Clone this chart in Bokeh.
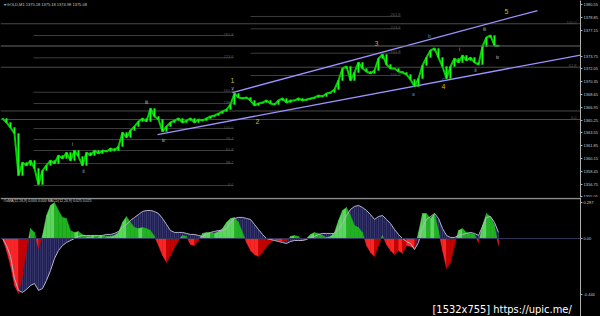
import numpy as np
from bokeh.plotting import figure
from bokeh.layouts import column
from bokeh.models import (Range1d, FixedTicker, Label, Span, ColumnDataSource,
                          NumeralTickFormatter)
from bokeh.core.properties import value
from bokeh.embed import file_html
from bokeh.resources import INLINE

# ---------------- data ----------------
title_text = "\u25be GOLD,M1  1375.18 1375.18 1374.98 1375.08"
ind_text = "OsMA(12,26,9) 0.000 0.000  MACD(12,26,9) 0.025 0.025"
watermark = "[1532x755] https://upic.me/"
current_price = 1375.08

close = [1365.45, 1364.92, 1364.25, 1363.46, 1357.88, 1359.61, 1359.21, 1359.87, 1358.81, 1356.68,
         1358.54, 1359.21, 1359.87, 1359.47, 1360.54, 1360.14, 1360.93, 1359.87, 1361.20, 1360.40,
         1359.21, 1360.93, 1360.54, 1361.20, 1360.80, 1361.20, 1361.07, 1361.47, 1361.20, 1361.73,
         1363.59, 1362.93, 1363.86, 1364.39, 1365.05, 1365.45, 1365.05, 1366.78, 1365.72, 1365.32,
         1363.72, 1364.39, 1364.92, 1365.18, 1365.45, 1364.92, 1365.18, 1365.45, 1364.92, 1365.32,
         1365.18, 1365.45, 1365.72, 1365.85, 1366.11, 1366.38, 1366.64, 1367.31, 1368.77, 1368.24,
         1368.11, 1368.24, 1367.84, 1367.18, 1367.44, 1367.57, 1367.84, 1367.44, 1367.31, 1367.84,
         1368.11, 1367.57, 1367.84, 1367.84, 1368.11, 1367.84, 1367.97, 1368.11, 1368.24, 1368.50,
         1368.37, 1368.77, 1368.90, 1369.30, 1370.50, 1372.09, 1372.36, 1370.50, 1371.56, 1372.89,
         1372.09, 1371.69, 1371.43, 1371.82, 1373.42, 1373.95, 1372.62, 1372.09, 1372.09, 1371.69,
         1371.56, 1371.29, 1370.63, 1369.70, 1370.76, 1372.49, 1373.55, 1374.48, 1374.75, 1373.55,
         1372.36, 1370.76, 1372.36, 1373.42, 1372.89, 1373.82, 1373.15, 1373.55, 1372.89, 1372.62,
         1375.01, 1376.21, 1376.47, 1375.14, 1375.08]

osma = [0.0, -0.095, -0.214, -0.373, -0.436, -0.293, -0.095, 0.079, 0.048, -0.079,
        0.024, 0.182, 0.262, 0.285, 0.222, 0.167, 0.159, 0.063, 0.048, 0.056,
        0.032, 0.016, 0.016, 0.024, 0.016, 0.024, 0.016, 0.016, 0.024, 0.048,
        0.127, 0.174, 0.127, 0.087, 0.079, 0.087, 0.079, 0.063, 0.016, -0.056,
        -0.135, -0.190, -0.135, -0.071, -0.016, 0.024, 0.016, -0.048, -0.056, -0.016,
        0.040, 0.048, 0.048, 0.040, 0.056, 0.079, 0.127, 0.159, 0.167, 0.127,
        0.048, -0.032, -0.095, -0.127, -0.143, -0.111, -0.063, -0.032, -0.008, -0.016,
        -0.024, -0.024, 0.016, 0.024, 0.016, -0.016, 0.0, 0.032, 0.048, 0.040,
        0.024, 0.008, 0.016, 0.048, 0.143, 0.222, 0.246, 0.182, 0.103, 0.087,
        0.048, -0.056, -0.111, -0.143, -0.056, 0.024, -0.048, -0.095, -0.127, -0.095,
        -0.119, -0.056, -0.063, -0.079, 0.048, 0.198, 0.198, 0.159, 0.198, 0.063,
        -0.095, -0.238, -0.190, -0.056, 0.063, 0.079, 0.048, 0.040, 0.032, -0.032,
        0.103, 0.198, 0.174, 0.103, -0.056]

macd = [0.0, -0.056, -0.143, -0.317, -0.412, -0.428, -0.404, -0.373, -0.357, -0.412,
        -0.397, -0.333, -0.254, -0.159, -0.095, -0.056, -0.032, -0.016, 0.0, 0.016,
        0.024, 0.024, 0.024, 0.024, 0.024, 0.024, 0.032, 0.032, 0.040, 0.056,
        0.087, 0.111, 0.143, 0.167, 0.190, 0.214, 0.222, 0.222, 0.214, 0.198,
        0.159, 0.111, 0.063, 0.048, 0.048, 0.048, 0.040, 0.032, 0.032, 0.024,
        0.016, 0.032, 0.048, 0.056, 0.063, 0.063, 0.079, 0.127, 0.159, 0.167,
        0.167, 0.159, 0.151, 0.111, 0.071, 0.032, 0.0, -0.008, -0.016, -0.024,
        -0.032, -0.040, -0.024, -0.016, -0.016, -0.016, -0.008, 0.008, 0.016, 0.032,
        0.040, 0.040, 0.040, 0.040, 0.079, 0.119, 0.182, 0.230, 0.254, 0.262,
        0.246, 0.222, 0.190, 0.151, 0.174, 0.182, 0.151, 0.119, 0.071, 0.032,
        0.0, -0.024, -0.040, -0.087, -0.032, 0.087, 0.151, 0.174, 0.198, 0.159,
        0.079, 0.024, 0.008, 0.008, 0.024, 0.032, 0.040, 0.048, 0.040, 0.024,
        0.095, 0.167, 0.174, 0.127, 0.048]

price_ticks = [1355.05, 1356.75, 1358.45, 1360.15, 1361.85, 1363.55, 1365.25, 1366.95,
               1368.65, 1370.35, 1372.05, 1373.75, 1377.15, 1378.85, 1380.55]
ind_ticks = [-0.444, 0.0, 0.287]

# fibonacci objects (levels, anchors in bar index)
fib_full_levels = [1378.03, 1372.26, 1366.45, 1365.32]
fib_full_names = ["100.0", "61.8", "", "0.0"]
fib_b_levels = [1376.47, 1373.51, 1368.94, 1367.44, 1364.12, 1362.66, 1361.20, 1359.47, 1356.55]
fib_b_names = ["261.8", "223.6", "161.8", "138.2", "100.0", "76.4", "61.8", "38.2", "0.0"]
fib_b_from, fib_b_to = 7.75, 57.75
fib_c_levels = [1379.00, 1377.36, 1374.12, 1371.16]
fib_c_names = ["261.8", "223.6", "161.8", "100.0"]
fib_c_from, fib_c_to = 62.0, 99.5

# channel lines (bar index, price)
chan_up_x = [57.5, 133.75]
chan_up_y = [1368.90, 1379.79]
chan_lo_x = [38.75, 144.5]
chan_lo_y = [1363.32, 1373.88]

# Elliott wave labels
major_lbl = ["1", "2", "3", "4", "5"]
major_x = [57.5, 63.75, 93.5, 110.25, 126.0]
major_y = [1370.50, 1365.05, 1375.41, 1369.70, 1379.66]
minor_lbl = ["i", "ii", "iii", "iv", "v", "i", "ii", "iii", "iv"]
minor_x = [17.5, 20.25, 36.0, 40.25, 57.5, 114.25, 118.25, 120.5, 123.75]
minor_y = [1362.00, 1358.41, 1367.57, 1362.53, 1369.43, 1374.61, 1371.82, 1377.27, 1373.55]
abc_lbl = ["a", "b", "c"]
abc_x = [102.75, 106.75, 110.25]
abc_y = [1368.77, 1376.34, 1370.63]

# ---------------- figures ----------------
n = len(close)
idx = np.arange(n)
xr = Range1d(-0.5, 144.5)
FONT = value("Liberation Sans")


def style_axis(a, ticks):
    a.ticker = FixedTicker(ticks=ticks)
    a.major_label_text_font_size = "4px"
    a.major_label_text_font = "Liberation Sans"
    a.major_label_text_color = "#c8c8c8"
    a.axis_line_color = "#b0b0b0"
    a.major_tick_line_color = "#b0b0b0"
    a.major_tick_out = 2
    a.major_tick_in = 0
    a.minor_tick_line_color = None
    a.major_label_standoff = 1


p = figure(frame_width=580, frame_height=197, x_range=xr,
           y_range=Range1d(1354.96, 1381.12), output_backend="svg",
           toolbar_location=None, x_axis_location=None, y_axis_location="right",
           background_fill_color="black", border_fill_color="black",
           min_border_left=0, min_border_right=20, min_border_top=0, min_border_bottom=0)
p.grid.visible = False
p.outline_line_color = None
style_axis(p.yaxis[0], price_ticks)
p.yaxis[0].formatter = NumeralTickFormatter(format="0.00")

# fib lines
p.segment(x0=[-0.5] * len(fib_full_levels), x1=[144.5] * len(fib_full_levels),
          y0=fib_full_levels, y1=fib_full_levels, line_color="#4a4a4a", line_width=1)
p.segment(x0=[fib_b_from] * len(fib_b_levels), x1=[fib_b_to] * len(fib_b_levels),
          y0=fib_b_levels, y1=fib_b_levels, line_color="#3c3c3c", line_width=1)
p.segment(x0=[fib_c_from] * len(fib_c_levels), x1=[fib_c_to] * len(fib_c_levels),
          y0=fib_c_levels, y1=fib_c_levels, line_color="#3c3c3c", line_width=1)
for lv, nm, xe in ((fib_full_levels, fib_full_names, 143.5),
                   (fib_b_levels, fib_b_names, fib_b_to),
                   (fib_c_levels, fib_c_names, fib_c_to)):
    p.text(x=[xe] * len(lv), y=lv, text=nm, text_font=FONT, text_font_size="4px",
           text_color="#5a5a5a", text_align="right", text_baseline="bottom")

# current price line
p.add_layout(Span(location=current_price, dimension="width", line_color="#6a6a6a", line_width=1))

# channel
p.line(chan_up_x, chan_up_y, line_color="#9d92ff", line_width=1.3)
p.line(chan_lo_x, chan_lo_y, line_color="#9d92ff", line_width=1.3)

# price candles
c = np.array(close)
o = np.concatenate([[c[0]], c[:-1]])
src = ColumnDataSource(dict(x=idx, top=np.maximum(o, c), bot=np.minimum(o, c), c=c))
p.line("x", "c", source=src, line_color="#00d000", line_width=2)
p.vbar(x="x", top="top", bottom="bot", width=0.4, source=src,
       fill_color="#22ff22", line_color="#10e010", line_width=0.5)

# wave labels
p.text(x=major_x, y=major_y, text=major_lbl, text_font=FONT, text_font_size="7px",
       text_color="#d2b41e", text_align="center", text_baseline="middle")
p.text(x=minor_x, y=minor_y, text=minor_lbl, text_font=FONT, text_font_size="4.5px",
       text_color="#c0c0c0", text_align="center", text_baseline="middle")
p.text(x=abc_x, y=abc_y, text=abc_lbl, text_font=FONT, text_font_size="5px",
       text_color="#3d8ce0", text_align="center", text_baseline="middle")

p.add_layout(Label(x=3, y=193, x_units="screen", y_units="screen", text=title_text,
                   text_font_size="4px", text_font="Liberation Sans", text_color="#c8c8c8",
                   text_baseline="middle"))
p.add_layout(Label(x=582, y=current_price, x_units="screen", y_units="data", text="1375.08",
                   text_font_size="4px", text_font="Liberation Sans", text_color="black",
                   background_fill_color="white", text_baseline="middle"))

# ---------------- indicator ----------------
q = figure(frame_width=580, frame_height=119, x_range=xr,
           y_range=Range1d(-0.619, 0.325), output_backend="svg",
           toolbar_location=None, x_axis_location=None, y_axis_location="right",
           background_fill_color="black", border_fill_color="black",
           min_border_left=0, min_border_right=20, min_border_top=0, min_border_bottom=0)
q.grid.visible = False
q.outline_line_color = None
style_axis(q.yaxis[0], ind_ticks)
q.yaxis[0].formatter = NumeralTickFormatter(format="0.000")
q.yaxis[0].major_label_overrides = {0: "0.00"}

# MACD: navy area with vertical hatch lines
m = np.array(macd)
q.varea(x=idx, y1=np.zeros(n), y2=m, fill_color="#1f1f4c")
q.segment(x0=idx, x1=idx, y0=np.zeros(n), y1=m, line_color="#4b4b88", line_width=0.6)
q.segment(x0=idx[:-1] + 0.5, x1=idx[:-1] + 0.5, y0=np.zeros(n - 1),
          y1=(m[:-1] + m[1:]) / 2, line_color="#3a3a74", line_width=0.5)

# OsMA: smooth polygons per interval, coloured by direction and sign
s = np.array(osma)
xs, ys, cols = [], [], []
for i in range(n - 1):
    a, b = s[i], s[i + 1]
    if a * b < 0:
        t = a / (a - b)
        segs = [(i, i + t, a, 0.0), (i + t, i + 1, 0.0, b)]
    else:
        segs = [(i, i + 1, a, b)]
    for xa, xb, ya, yb in segs:
        mid = (ya + yb) / 2
        rising = b >= a
        if mid >= 0:
            col = "#5ad85a" if rising else "#1fb41f"
        else:
            col = "#ff2424" if not rising else "#c80000"
        xs.append([xa, xb, xb, xa])
        ys.append([0.0, 0.0, yb, ya])
        cols.append(col)
q.patches(xs=xs, ys=ys, fill_color=cols, line_color=cols, line_width=0.4)
q.add_layout(Span(location=0, dimension="width", line_color="#34345a", line_width=1))
q.line(idx, m, line_color="#b4b4cc", line_width=1)
q.add_layout(Span(location=0.318, dimension="width", line_color="#8c8c8c", line_width=1.5))

q.add_layout(Label(x=3, y=116, x_units="screen", y_units="screen", text=ind_text,
                   text_font_size="3.5px", text_font="Liberation Sans", text_color="#c8c8c8",
                   text_baseline="middle"))
q.add_layout(Label(x=432, y=1, x_units="screen", y_units="screen", text=watermark,
                   text_font_size="11px", text_font="DejaVu Sans Condensed", text_color="white",
                   text_baseline="bottom"))

layout = column(p, q, spacing=0, styles={"background-color": "black"})
open("out.html", "w").write(file_html(layout, INLINE))
